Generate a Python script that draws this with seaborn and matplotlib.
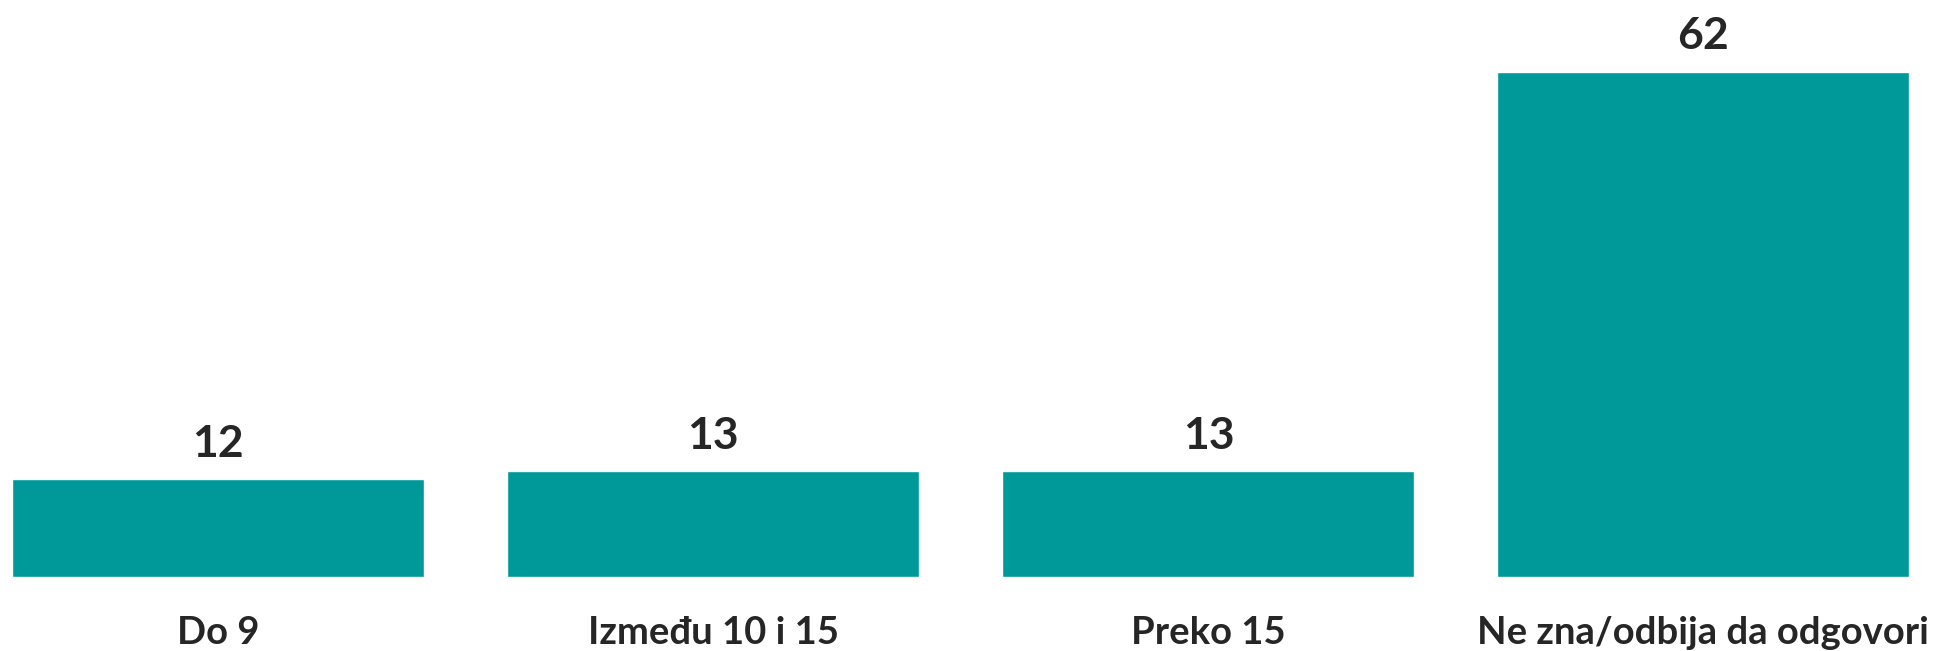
import matplotlib
matplotlib.use("Agg")
import matplotlib.pyplot as plt
import seaborn as sns
import pandas as pd

categories = ["Do 9", "Između 10 i 15", "Preko 15", "Ne zna/odbija da odgovori"]
values = [12, 13, 13, 62]

BAR = "#009999"
TXT = "#262626"

sns.set_theme(style="white")
plt.rcParams["font.family"] = ["Lato", "DejaVu Sans"]

df = pd.DataFrame({"cat": categories, "val": values})

fig = plt.figure(figsize=(19.46, 6.51), dpi=100)
ax = fig.add_axes([0, 74 / 651, 1, 577 / 651])
sns.barplot(data=df, x="cat", y="val", color=BAR, saturation=1, width=0.832, ax=ax)

ax.set_xlim(-0.441, 3.490)
ax.set_ylim(0, 70.8)
ax.set(xlabel="", ylabel="", yticks=[])
sns.despine(ax=ax, left=True, bottom=True)
ax.tick_params(axis="x", length=0, pad=28, labelsize=27.5, labelcolor=TXT)
for t in ax.get_xticklabels():
    t.set_fontweight("bold")

ax.bar_label(ax.containers[0], labels=[str(v) for v in values], padding=11,
             fontsize=32, fontweight="bold", color=TXT)

fig.savefig("out.png", dpi=100, facecolor="white")
